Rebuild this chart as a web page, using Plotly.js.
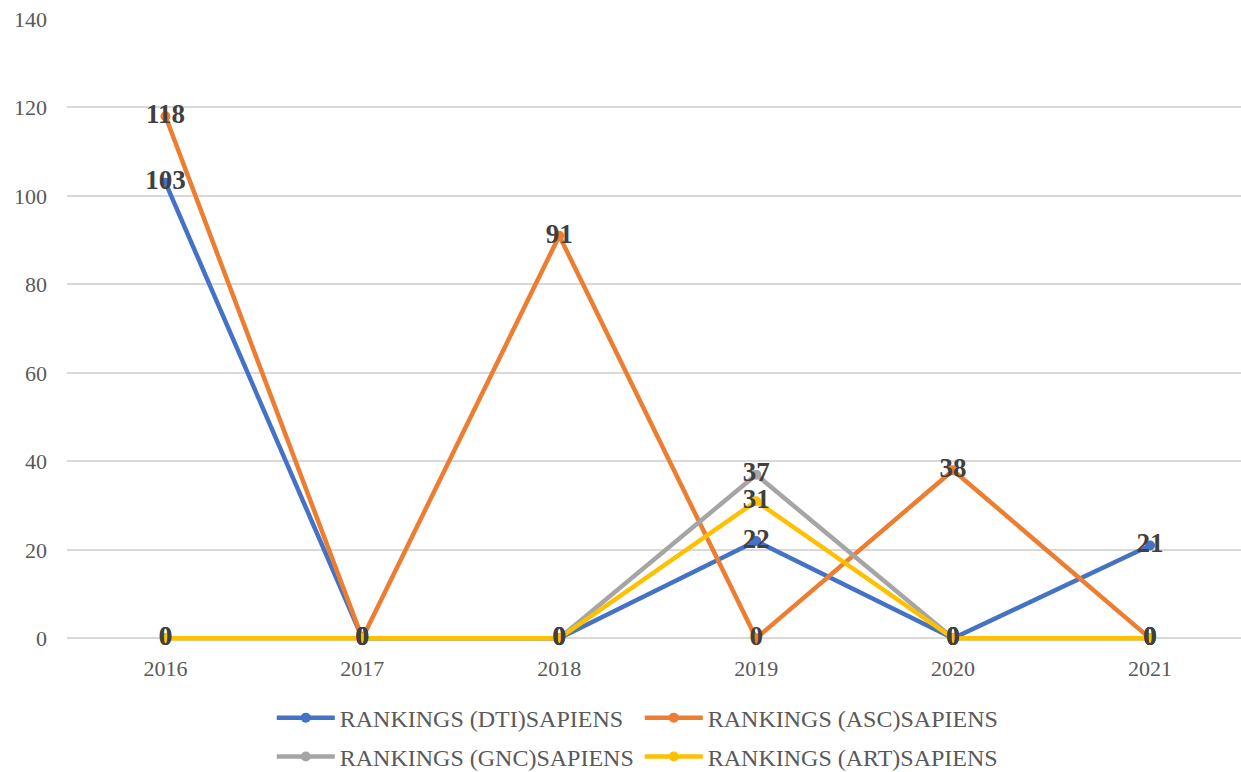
<!DOCTYPE html>
<html>
<head>
<meta charset="utf-8">
<script src="https://cdn.plot.ly/plotly-3.0.1.min.js"></script>
<style>html,body{margin:0;padding:0;background:#fff;}#chart{width:1241px;height:772px;}</style>
</head>
<body>
<div id="chart"></div>
<script>
const years = ['2016', '2017', '2018', '2019', '2020', '2021'];
const seriesNames = ['RANKINGS (DTI)SAPIENS', 'RANKINGS (ASC)SAPIENS', 'RANKINGS (GNC)SAPIENS', 'RANKINGS (ART)SAPIENS'];
const dti = [103, 0, 0, 22, 0, 21];
const asc = [118, 0, 91, 0, 38, 0];
const gnc = [0, 0, 0, 37, 0, 0];
const art = [0, 0, 0, 31, 0, 0];
const yTicks = [0, 20, 40, 60, 80, 100, 120, 140];

const colors = ['#4472C4', '#ED7D31', '#A5A5A5', '#FFC000'];
const values = [dti, asc, gnc, art];
const legendIds = ['legend', 'legend', 'legend2', 'legend2'];
const serif = '"Liberation Serif", "Times New Roman", serif';

const traces = [];
values.forEach((v, i) => {
  traces.push({
    x: years, y: v, type: 'scatter', mode: 'lines+markers',
    name: seriesNames[i], legend: legendIds[i],
    line: {color: colors[i], width: 4.5},
    marker: {color: colors[i], size: 10},
    cliponaxis: false,
    hoverinfo: 'x+y'
  });
});
values.forEach((v, i) => {
  traces.push({
    x: years, y: v, type: 'scatter', mode: 'text',
    text: v.map(String), textposition: 'middle center',
    textfont: {family: serif, size: 27, color: '#404040', weight: 'bold'},
    cliponaxis: false,
    showlegend: false, hoverinfo: 'skip'
  });
});

const legendCommon = {
  orientation: 'h', xanchor: 'left', yanchor: 'middle',
  xref: 'container', yref: 'container',
  entrywidth: 295, entrywidthmode: 'pixels',
  font: {family: serif, size: 24, color: '#595959'},
  bgcolor: 'rgba(0,0,0,0)', itemwidth: 58
};

const layout = {
  width: 1241, height: 772,
  margin: {l: 66.5, r: 0, t: 19, b: 131.35},
  paper_bgcolor: '#ffffff', plot_bgcolor: '#ffffff',
  showlegend: true,
  xaxis: {
    type: 'category', range: [-0.5, 5.462],
    showgrid: false, zeroline: false, showline: false,
    ticks: '', ticklabelstandoff: 12,
    tickfont: {family: serif, size: 22, color: '#595959'}
  },
  yaxis: {
    range: [-0.6, 140], tickvals: yTicks, ticktext: yTicks.map(String),
    showgrid: true, gridcolor: '#D9D9D9', gridwidth: 1.5,
    zeroline: false, showline: false, ticks: '', ticklabelstandoff: 19,
    tickfont: {family: serif, size: 22, color: '#595959'}
  },
  legend: Object.assign({x: 0.219, y: 0.0699}, legendCommon),
  legend2: Object.assign({x: 0.219, y: 0.0195}, legendCommon)
};

Plotly.newPlot('chart', traces, layout, {displayModeBar: false, responsive: false});
</script>
</body>
</html>
